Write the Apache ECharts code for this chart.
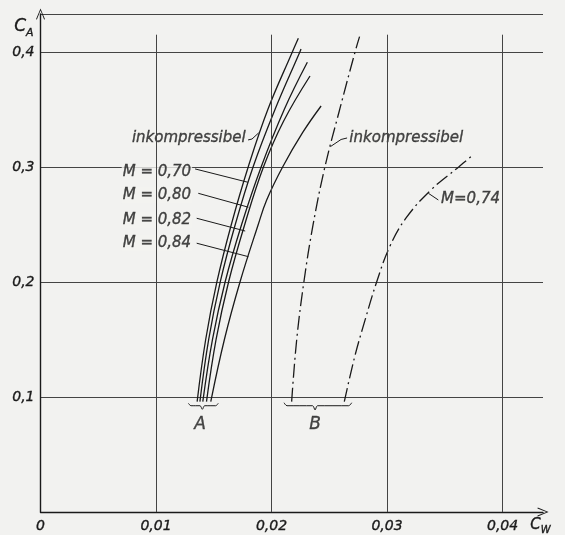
<!DOCTYPE html>
<html>
<head>
<meta charset="utf-8">
<script src="https://cdn.jsdelivr.net/npm/echarts@6/dist/echarts.min.js"></script>
<style>
html, body { margin: 0; padding: 0; background: #f2f2f0; }
#chart { width: 565px; height: 535px; }
</style>
</head>
<body>
<div id="chart"></div>
<script>
// polars, [c_W, c_A]
// group A (solid)
const inkA = [[0.01356, 0.096], [0.01430, 0.15], [0.01527, 0.20], [0.01652, 0.25], [0.01798, 0.30], [0.01968, 0.35], [0.02180, 0.40], [0.02232, 0.412]];
const m070 = [[0.01380, 0.096], [0.01456, 0.15], [0.01556, 0.20], [0.01686, 0.25], [0.01840, 0.30], [0.02030, 0.35], [0.02245, 0.40], [0.02255, 0.4026]];
const m080 = [[0.01405, 0.096], [0.01489, 0.15], [0.01598, 0.20], [0.01741, 0.25], [0.01910, 0.30], [0.02110, 0.35], [0.02310, 0.391]];
const m082 = [[0.01437, 0.096], [0.01520, 0.15], [0.01628, 0.20], [0.01768, 0.25], [0.01930, 0.30], [0.02105, 0.34], [0.02333, 0.3791]];
const m084 = [[0.01474, 0.096], [0.01592, 0.15], [0.01727, 0.20], [0.01885, 0.25], [0.01958, 0.2713], [0.02096, 0.30], [0.02270, 0.33], [0.02429, 0.353]];
// group B (dash-dot)
const inkB = [[0.02174, 0.096], [0.02218, 0.15], [0.02280, 0.20], [0.02360, 0.25], [0.02462, 0.30], [0.02590, 0.35], [0.02723, 0.40], [0.02762, 0.4133]];
const m074 = [[0.02630, 0.096], [0.02720, 0.135], [0.02810, 0.167], [0.02910, 0.20], [0.03020, 0.23], [0.03160, 0.255], [0.03380, 0.28], [0.03620, 0.30], [0.03742, 0.3104]];

const xTicks = [0.01, 0.02, 0.03, 0.04];
const gridTop = 0.415;

// labels and their leader lines
const notes = [
  { name: 'inkompressibel', value: [0.01785, 0.3252], pos: 'left' },
  { name: 'M = 0,70', value: [0.00703, 0.2957], pos: 'right' },
  { name: 'M = 0,80', value: [0.00703, 0.2757], pos: 'right' },
  { name: 'M = 0,82', value: [0.00703, 0.2539], pos: 'right' },
  { name: 'M = 0,84', value: [0.00703, 0.2337], pos: 'right' },
  { name: 'inkompressibel', value: [0.02665, 0.3250], pos: 'right' },
  { name: 'M=0,74', value: [0.03459, 0.2719], pos: 'right' }
];
const groups = [
  { name: 'A', value: [0.01381, 0.0757] },
  { name: 'B', value: [0.02377, 0.0757] }
];
const leaders = [
  [[0.01797, 0.3235], [0.01831, 0.3243], [0.01888, 0.3296]],
  [[0.01338, 0.2983], [0.01795, 0.2867]],
  [[0.01366, 0.2771], [0.01800, 0.2650]],
  [[0.01352, 0.2554], [0.01772, 0.2443]],
  [[0.01352, 0.2337], [0.01800, 0.2220]],
  [[0.02654, 0.3252], [0.02602, 0.3239], [0.02510, 0.3177]],
  [[0.03444, 0.2713], [0.03358, 0.2771]]
];
const braceA = [[0.01280, 0.0945], [0.01303, 0.0924], [0.01381, 0.0924], [0.01401, 0.0893], [0.01421, 0.0924], [0.01516, 0.0924], [0.01539, 0.0945]];
const braceB = [[0.02108, 0.0950], [0.02134, 0.0924], [0.02355, 0.0924], [0.02377, 0.0887], [0.02398, 0.0924], [0.02668, 0.0924], [0.02694, 0.0950]];

const chart = echarts.init(document.getElementById('chart'));
const ink = '#1a1a1a';
const paper = '#f2f2f0';
const font = 'DejaVu Sans';
const chevron = 'path://M0,12 L5,0 L10,12 L9,12.4 L5,2.4 L1,12.4 Z';
// thin outline so the lettering reads as dark as the drawing
const txt = { color: ink, fontFamily: font, fontStyle: 'italic', textBorderColor: ink, textBorderWidth: 0.35 };

function curve(data, dashed) {
  return {
    type: 'line', data: data, smooth: 0.4, symbol: 'none', z: 2, silent: true,
    lineStyle: { color: ink, width: 1.3, type: dashed ? [14, 4, 2, 4] : 'solid' }
  };
}
function stroke(data, smooth) {
  return {
    type: 'line', data: data, smooth: smooth || false, symbol: 'none', z: 4, silent: true,
    lineStyle: { color: ink, width: 1 }
  };
}

const series = [
  curve(inkA), curve(m070), curve(m080), curve(m082), curve(m084),
  curve(inkB, true), curve(m074, true),
  {
    // vertical grid lines stop a bit above 0,4
    type: 'line', data: [], z: 1, silent: true,
    markLine: {
      silent: true, symbol: 'none', label: { show: false },
      lineStyle: { color: '#444', width: 1, type: 'solid' },
      data: xTicks.map(x => [{ coord: [x, 0] }, { coord: [x, gridTop] }])
    }
  },
  {
    type: 'scatter', z: 3, symbolSize: 0, silent: true,
    data: notes.map(n => ({ name: n.name, value: n.value, label: { position: n.pos } })),
    label: Object.assign({
      show: true, formatter: '{b}', distance: 0, fontSize: 15,
      backgroundColor: paper, padding: [1, 1]
    }, txt)
  },
  {
    type: 'scatter', z: 3, symbolSize: 0, silent: true,
    data: groups,
    label: Object.assign({ show: true, formatter: '{b}', position: 'inside', fontSize: 17 }, txt)
  },
  stroke(braceA, 0.3), stroke(braceB, 0.3)
].concat(leaders.map(l => stroke(l)));

chart.setOption({
  backgroundColor: paper,
  animation: false,
  grid: { left: 40.5, right: 22, top: 14, bottom: 23, containLabel: false },
  xAxis: {
    type: 'value', min: 0, max: 0.0435, interval: 0.01,
    axisLine: { show: true, lineStyle: { color: ink, width: 1.4 }, symbol: ['none', chevron], symbolSize: [9, 13] },
    axisTick: { show: false },
    splitLine: { show: false },
    axisLabel: Object.assign({
      margin: 7, fontSize: 14, showMaxLabel: false,
      formatter: v => v === 0 ? '0' : v.toFixed(2).replace('.', ',')
    }, txt)
  },
  yAxis: {
    type: 'value', min: 0, max: 0.433, interval: 0.1,
    axisLine: { show: true, lineStyle: { color: ink, width: 1.4 }, symbol: ['none', chevron], symbolSize: [9, 13] },
    axisTick: { show: false },
    splitLine: { show: true, lineStyle: { color: '#444', width: 1 } },
    axisLabel: Object.assign({
      margin: 6, fontSize: 14, showMaxLabel: false,
      formatter: v => v === 0 ? '' : v.toFixed(1).replace('.', ',')
    }, txt)
  },
  graphic: [
    {
      type: 'text', left: 14, top: 18, z: 10,
      style: {
        text: '{c|C}{s|A}', fill: ink, stroke: ink, lineWidth: 0.35,
        rich: {
          c: { fontFamily: font, fontStyle: 'italic', fontSize: 17, verticalAlign: 'bottom' },
          s: { fontFamily: font, fontStyle: 'italic', fontSize: 11, verticalAlign: 'bottom', padding: [0, 0, -3, 0] }
        }
      }
    },
    {
      type: 'text', left: 530, top: 517, z: 10,
      style: {
        text: '{c|C}{s|W}', fill: ink, stroke: ink, lineWidth: 0.35,
        rich: {
          c: { fontFamily: font, fontStyle: 'italic', fontSize: 15, verticalAlign: 'bottom' },
          s: { fontFamily: font, fontStyle: 'italic', fontSize: 10, verticalAlign: 'bottom', padding: [0, 0, -3, 0] }
        }
      }
    }
  ],
  series: series
});
</script>
</body>
</html>
